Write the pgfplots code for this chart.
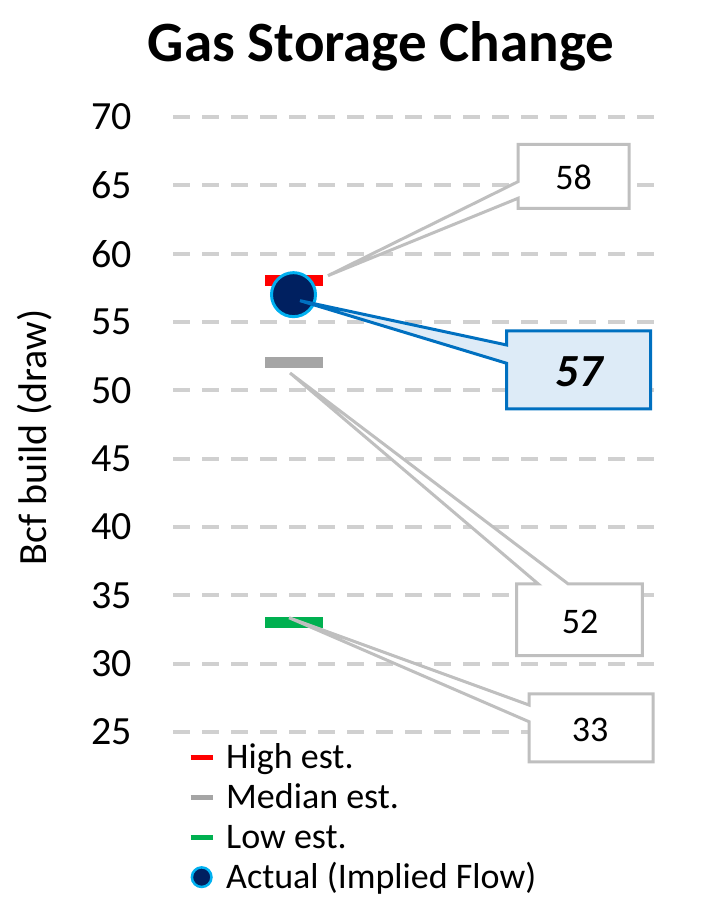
\documentclass[border=0pt]{standalone}
\usepackage{fontspec}
\setmainfont{Carlito}
\usepackage{pgfplots}
\pgfplotsset{compat=1.18}
\definecolor{hiRed}{HTML}{FF0000}
\definecolor{medGray}{HTML}{A5A5A5}
\definecolor{lowGreen}{HTML}{00B050}
\definecolor{navy}{HTML}{002060}
\definecolor{edgeBlue}{HTML}{00B0F0}
\definecolor{gridGray}{HTML}{D0D0D0}
\definecolor{boxGray}{HTML}{BFBFBF}
\definecolor{calloutBlue}{HTML}{0070C0}
\definecolor{calloutFill}{HTML}{DDEBF7}
\begin{document}
\begin{tikzpicture}
\path[use as bounding box] (0bp,0bp) rectangle (705bp,900bp);
\begin{axis}[
  at={(173bp,168bp)}, anchor=south west,
  scale only axis, width=482bp, height=615bp,
  xmin=0, xmax=4, ymin=25, ymax=70,
  xtick=\empty,
  ytick={25,30,...,70},
  axis line style={draw=none},
  tick style={draw=none},
  ymajorgrids,
  major grid style={color=gridGray, line width=4bp, dash pattern=on 17bp off 12bp},
  /pgf/number format/assume math mode=true,
  yticklabel style={font=\fontsize{40bp}{48bp}\selectfont, inner sep=0pt, xshift=-41bp},
  clip=false,
  legend cell align=left,
  legend style={at={(axis description cs:0.0311,-0.0146)}, anchor=north west,
    draw=none, fill=none, inner sep=0pt, row sep=4bp, column sep=11bp,
    font=\fontsize{36bp}{40bp}\selectfont,
    nodes={inner sep=0pt, text height=27bp, text depth=9bp}},
]
\addplot[only marks, mark=-, mark size=29bp, mark options={line width=11bp, draw=hiRed},
  legend image code/.code={\draw[line width=5bp, hiRed] (0bp,2bp) -- (22bp,2bp);}]
  coordinates {(1,58)};
\addlegendentry{High est.}
\addplot[only marks, mark=-, mark size=29bp, mark options={line width=11bp, draw=medGray},
  legend image code/.code={\draw[line width=5bp, medGray] (0bp,2bp) -- (22bp,2bp);}]
  coordinates {(1,52)};
\addlegendentry{Median est.}
\addplot[only marks, mark=-, mark size=29bp, mark options={line width=11bp, draw=lowGreen},
  legend image code/.code={\draw[line width=5bp, lowGreen] (0bp,2bp) -- (22bp,2bp);}]
  coordinates {(1,33)};
\addlegendentry{Low est.}
\addplot[only marks, mark=*, mark size=22bp, mark options={fill=navy, draw=edgeBlue, line width=3bp},
  legend image code/.code={\draw[fill=navy, draw=edgeBlue, line width=2.5bp] (11bp,2bp) circle (9.8bp);}]
  coordinates {(1,57)};
\addlegendentry{Actual (Implied Flow)}
\coordinate (tH) at (axis cs:1.286,58.39);
\coordinate (tA) at (axis cs:1.054,56.56);
\coordinate (tM) at (axis cs:0.971,51.27);
\coordinate (tL) at (axis cs:0.963,33.36);
\end{axis}
% callouts
\draw[boxGray, fill=white, line width=3bp]
  (518bp,755.7bp) -- (629bp,755.7bp) -- (629bp,691.7bp) -- (518bp,691.7bp) -- (518bp,701.7bp) -- (tH) -- (518bp,718.3bp) -- cycle;
\node[font=\fontsize{36bp}{40bp}\selectfont, inner sep=0pt] at (573.5bp,723bp) {58};
\draw[calloutBlue, fill=calloutFill, line width=3bp]
  (506.7bp,569bp) -- (650.7bp,569bp) -- (650.7bp,491bp) -- (506.7bp,491bp) -- (506.7bp,536.7bp) -- (tA) -- (506.7bp,555bp) -- cycle;
\node[font=\fontsize{46bp}{50bp}\selectfont\bfseries\itshape, inner sep=0pt] at (579bp,528.3bp) {57};
\draw[boxGray, fill=white, line width=3bp]
  (516.7bp,316bp) -- (538.3bp,316bp) -- (tM) -- (568.3bp,316bp) -- (642.3bp,316bp) -- (642.3bp,244.3bp) -- (516.7bp,244.3bp) -- cycle;
\node[font=\fontsize{36bp}{40bp}\selectfont, inner sep=0pt] at (580bp,278.3bp) {52};
\draw[boxGray, fill=white, line width=3bp]
  (529bp,206bp) -- (653bp,206bp) -- (653bp,138bp) -- (529bp,138bp) -- (529bp,178.3bp) -- (tL) -- (529bp,195bp) -- cycle;
\node[font=\fontsize{36bp}{40bp}\selectfont, inner sep=0pt] at (590bp,170bp) {33};
% title and y label
\node[font=\fontsize{57bp}{60bp}\selectfont\bfseries, anchor=base, inner sep=0pt] at (381bp,838bp) {Gas Storage Change};
\node[font=\fontsize{40bp}{48bp}\selectfont, rotate=90, inner sep=0pt] at (35bp,462.5bp) {Bcf build (draw)};
\end{tikzpicture}
\end{document}
